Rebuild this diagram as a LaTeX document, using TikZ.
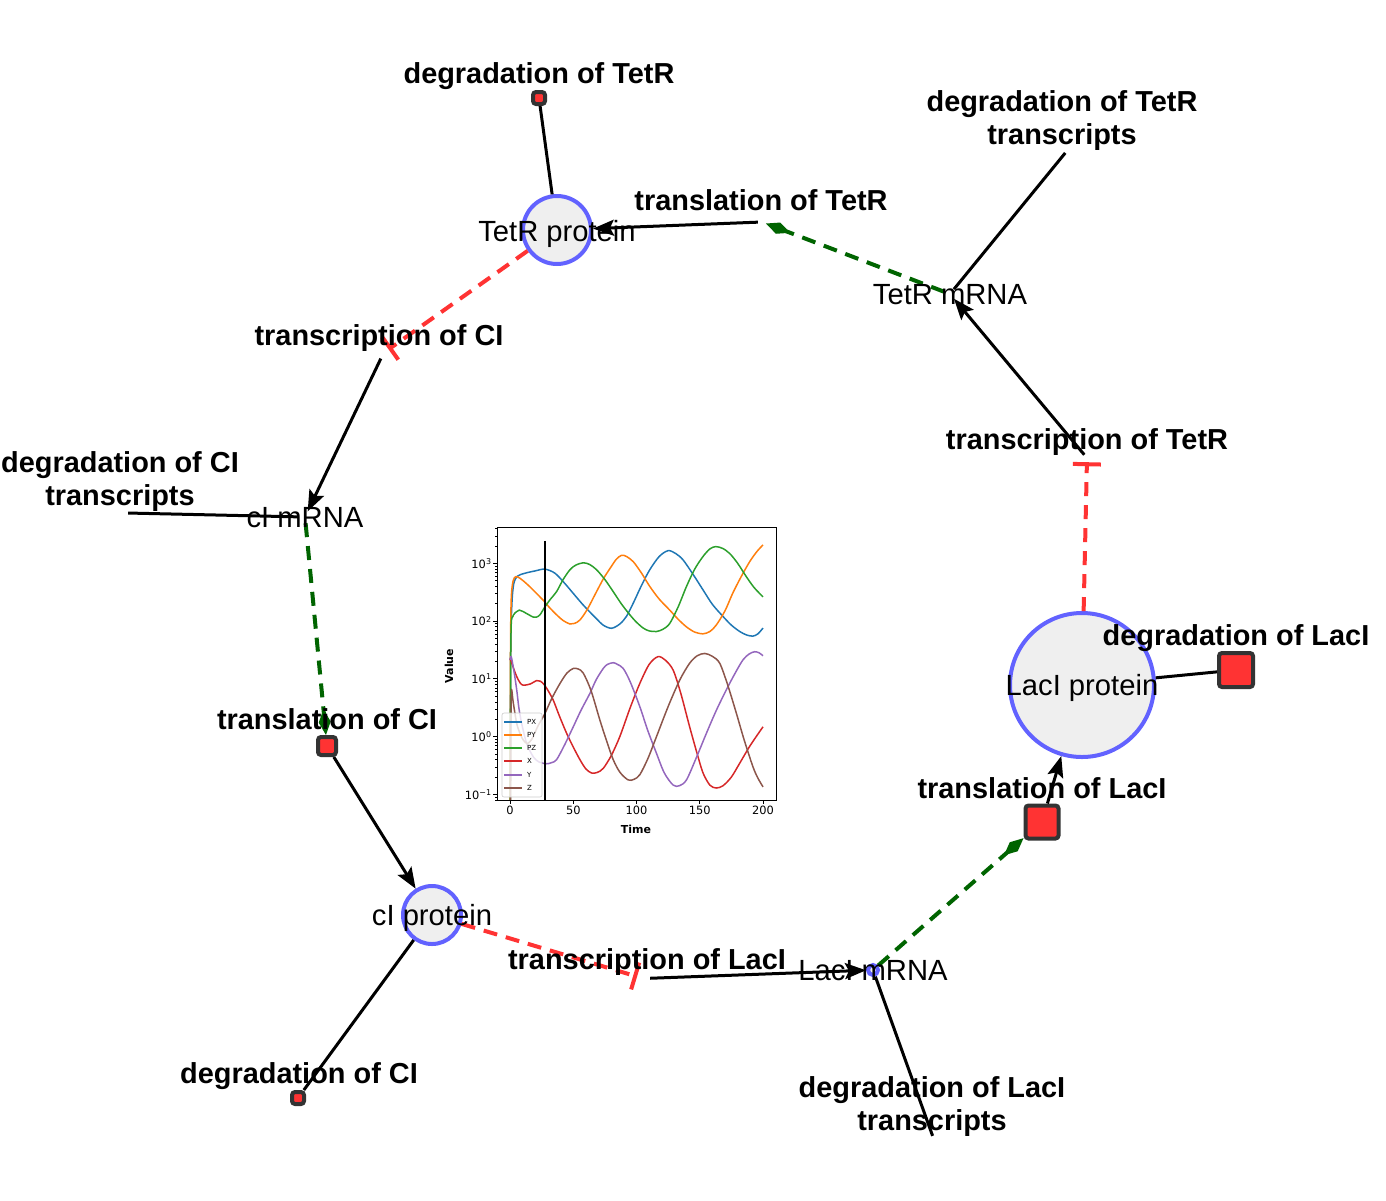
\documentclass[tikz,border=0pt]{standalone}
\usepackage{fontspec}
\setmainfont{Liberation Sans}
\newfontfamily\plotfont{DejaVu Sans}
\usetikzlibrary{arrows.meta, positioning}

\definecolor{spfill}{HTML}{EFEFEF}
\definecolor{spedge}{HTML}{6262FF}
\definecolor{rxfill}{HTML}{FF3333}
\definecolor{rxedge}{HTML}{333333}
\definecolor{inhib}{HTML}{FF3333}
\definecolor{modif}{HTML}{006400}
\definecolor{cPX}{HTML}{1F77B4}
\definecolor{cPY}{HTML}{FF7F0E}
\definecolor{cPZ}{HTML}{2CA02C}
\definecolor{cX}{HTML}{D62728}
\definecolor{cY}{HTML}{9467BD}
\definecolor{cZ}{HTML}{8C564B}

\tikzset{
	species/.style={circle, draw=spedge, fill=spfill, line width=4pt, inner sep=0pt},
	bare/.style={circle, inner sep=0pt},
	rxn/.style={rectangle, draw=rxedge, fill=rxfill, line width=4pt, rounded corners=3pt, inner sep=0pt},
	splab/.style={font=\fontsize{29.2}{33}\selectfont, inner sep=0pt},
	rxlab/.style={font=\fontsize{28.9}{33}\selectfont\bfseries, align=center, inner sep=0pt},
	degline/.style={line width=3pt},
	conv/.style={line width=3pt, -{Stealth[length=21pt, width=16pt, inset=4pt]}},
	modlink/.style={line width=4pt, modif, dash pattern=on 14pt off 9pt, -{Diamond[length=26pt, width=12pt]}},
	inhlink/.style={line width=4pt, inhib, dash pattern=on 14pt off 9pt, -{Bar[width=28pt]}},
	simline/.style={line width=1.5pt},
	ticklab/.style={font=\plotfont\fontsize{11.4}{13}\selectfont, inner sep=1.5pt},
}

\begin{document}
\begin{tikzpicture}[x=1pt, y=-1pt]
	\useasboundingbox (0,0) rectangle (1386,1200);

	% --- species ---
	\node[species, minimum size=68pt] (tetRp) at (557,230) {};
	\node[bare, minimum size=12pt] (tetRm) at (950,294) {};
	\node[bare, minimum size=12pt] (cIm) at (305,517) {};
	\node[species, minimum size=58pt] (cIp) at (432,915) {};
	\node[species, minimum size=10pt] (lacIm) at (873,970) {};
	\node[species, minimum size=144pt] (lacIp) at (1082,685) {};

	% --- reactions ---
	\node[rxn, minimum size=12pt] (degTetR) at (539,98) {};
	\node[bare, minimum size=2pt] (degTetRm) at (1066,152) {};
	\node[bare, minimum size=8pt] (tlTetR) at (762,222) {};
	\node[bare, minimum size=8pt] (tcTetR) at (1087,458) {};
	\node[bare, minimum size=12pt] (tcCI) at (383.5,353) {};
	\node[bare, minimum size=2pt] (degCIm) at (127,513) {};
	\node[rxn, minimum size=18pt] (tlCI) at (327,746) {};
	\node[rxn, minimum size=12pt] (degCI) at (298,1098) {};
	\node[bare, minimum size=13pt] (tcLacI) at (643.5,978.5) {};
	\node[bare, minimum size=2pt] (degLacIm) at (933,1137) {};
	\node[rxn, minimum size=33pt] (tlLacI) at (1042,822) {};
	\node[rxn, minimum size=34pt] (degLacI) at (1236,670) {};

	% --- edges ---
	\foreach \a/\b in {tetRp/degTetR, tetRm/degTetRm, cIm/degCIm, cIp/degCI, lacIm/degLacIm, lacIp/degLacI}
		\draw[degline] (\a) -- (\b);
	\foreach \a/\b in {tlTetR/tetRp, tcTetR/tetRm, tcCI/cIm, tlCI/cIp, tcLacI/lacIm, tlLacI/lacIp}
		\draw[conv] (\a) -- (\b);
	\foreach \a/\b in {tetRm/tlTetR, cIm/tlCI, lacIm/tlLacI}
		\draw[modlink] (\a) -- (\b);
	\foreach \a/\b in {lacIp/tcTetR, tetRp/tcCI, cIp/tcLacI}
		\draw[inhlink] (\a) -- (\b);

	% --- inset: time course ---
	\begin{scope}[shift={(510,736.6)}, x=1.265pt, y=57.75pt]
		\begin{scope}
			\clip (-10.3,-1.098) rectangle (210.3,3.63);
			\draw[simline, cPX] plot[smooth] coordinates {(0,-1.3) (0.6,1.5) (1.5,2.3) (3,2.65) (6,2.78) (12,2.83) (20,2.87) (27.6,2.90) (35.5,2.83) (43,2.66) (50,2.48) (57,2.30) (63,2.16) (68,2.05) (73.7,1.93) (80.3,1.876) (86.8,1.95) (92,2.08) (97.4,2.31) (104,2.62) (110.5,2.89) (118,3.12) (125,3.22) (131,3.17) (136.8,3.06) (145,2.80) (152.6,2.54) (160,2.29) (168.4,2.08) (175,1.93) (181.6,1.82) (187,1.76) (192,1.74) (196,1.78) (200,1.88)};
			\draw[simline, cPY] plot[smooth] coordinates {(0,-1.3) (0.4,1.5) (1,2.4) (2.5,2.7) (4.7,2.77) (8,2.74) (14,2.63) (20,2.50) (26.3,2.36) (31,2.24) (36.8,2.11) (42,2.01) (47.4,1.95) (51,1.96) (55.3,2.02) (61,2.2) (68.4,2.51) (74,2.74) (79,2.91) (84,3.07) (88.2,3.14) (92,3.12) (97.4,3.03) (104,2.83) (110.5,2.60) (118,2.38) (126.3,2.19) (133,2.03) (139.5,1.90) (146,1.81) (152.6,1.78) (158,1.82) (163,1.93) (170,2.18) (176,2.48) (183,2.78) (189.5,3.03) (195,3.2) (200,3.32)};
			\draw[simline, cPZ] plot[smooth] coordinates {(0.2,-1.3) (0.5,1.2) (1,1.96) (2,2.07) (3.9,2.14) (7.4,2.19) (10,2.17) (13.2,2.13) (18.4,2.07) (21,2.07) (23.7,2.11) (27.7,2.25) (32,2.38) (36.8,2.51) (42,2.72) (47.4,2.89) (52,2.97) (57.9,3.01) (63,2.98) (68.4,2.89) (75,2.72) (81.6,2.51) (88,2.30) (94.7,2.11) (100,1.98) (105.3,1.88) (110,1.83) (115.8,1.82) (121,1.86) (126.3,1.96) (133,2.25) (139.5,2.60) (146,2.90) (152.6,3.12) (158,3.25) (162.6,3.29) (168,3.26) (173.7,3.17) (180,3.0) (186.8,2.77) (193,2.58) (200,2.42)};
			\draw[simline, cX] plot[smooth] coordinates {(0,1.33) (0.5,1.33) (2.5,1.2) (5.3,1.04) (8,0.93) (10.5,0.89) (15.8,0.91) (21.1,0.97) (24,0.96) (27,0.9) (30,0.8) (34.2,0.63) (39,0.36) (44.7,0.06) (50,-0.18) (55.3,-0.40) (60,-0.56) (64.5,-0.63) (69,-0.62) (73.7,-0.55) (80,-0.33) (86.8,0.0) (95,0.5) (102.6,0.92) (110,1.25) (117,1.385) (123,1.32) (129,1.15) (135,0.75) (142,0.17) (148,-0.3) (152.6,-0.63) (158,-0.84) (163,-0.89) (168.4,-0.85) (175,-0.7) (181.6,-0.46) (190,-0.15) (200,0.17)};
			\draw[simline, cY] plot[smooth] coordinates {(0,1.33) (1,1.38) (3,1.15) (5.3,0.81) (7,0.5) (9.2,0.23) (13.2,-0.12) (18.4,-0.35) (23,-0.44) (29,-0.47) (33,-0.45) (36.8,-0.40) (43,-0.15) (50,0.17) (56,0.45) (63.2,0.75) (68,0.98) (73.7,1.18) (77,1.25) (81.6,1.28) (85,1.25) (89.5,1.18) (95,0.95) (102.6,0.52) (109,0.1) (115.8,-0.29) (122,-0.63) (129,-0.84) (134,-0.85) (139.5,-0.75) (147,-0.38) (155.3,0.06) (163,0.45) (171,0.81) (178,1.10) (184.2,1.33) (189,1.43) (193.4,1.47) (197,1.45) (200,1.40)};
			\draw[simline, cZ] plot[smooth] coordinates {(0.5,-1.3) (0.8,0.3) (1.2,0.81) (2.5,0.6) (5.3,0.23) (8,0.05) (10.5,-0.06) (13.5,-0.12) (16,-0.08) (18.4,0.0) (22,0.18) (27.6,0.40) (33,0.66) (39.5,0.92) (45,1.1) (50,1.18) (54,1.17) (57.9,1.10) (64,0.8) (71,0.29) (76,-0.05) (81.6,-0.40) (87,-0.62) (93.4,-0.75) (98,-0.74) (102.6,-0.66) (109,-0.38) (115.8,0.0) (125,0.52) (134.2,0.98) (142,1.27) (148,1.4) (154,1.44) (160,1.39) (165.8,1.27) (172,0.9) (179,0.40) (185,-0.05) (192,-0.52) (196,-0.72) (200,-0.87)};
		\end{scope}
		\draw[line width=2pt] (27.7,3.39) -- (27.7,-1.098);
		\draw[line width=0.9pt] (-10.3,-1.098) rectangle (210.3,3.63);
		% ticks
		\foreach \e/\s in {-1/{−1}, 0/0, 1/1, 2/2, 3/3}
			\draw[line width=0.8pt] (-10.3,\e) -- ++(-3.5pt,0pt) node[ticklab, left] (ytick\e) {10\textsuperscript{\s}};
		\begin{scope}
			\clip (-20,-1.098) rectangle (0,3.63);
			\foreach \e in {-2,...,3}
				\foreach \m in {0.301,0.477,0.602,0.699,0.778,0.845,0.903,0.954}
					\draw[line width=0.6pt] (-10.3,\e+\m) -- ++(-2pt,0pt);
		\end{scope}
		\foreach \t in {0,50,...,200}
			\draw[line width=0.8pt] (\t,-1.098) -- ++(0pt,-3.5pt) node[ticklab, below, inner sep=2.5pt] (xtick\t) {\t};
	\end{scope}
	\node[font=\plotfont\bfseries\fontsize{11}{13}\selectfont, rotate=90] (ylab) at (449,666) {Value};
	\node[font=\plotfont\bfseries\fontsize{11}{13}\selectfont] (xlab) at (636,829) {Time};
	% legend
	\draw[draw=black!20, fill=white, fill opacity=0.8, rounded corners=2pt, line width=0.6pt] (502,713) rectangle (542,797);
	\foreach \y/\c/\n in {722/cPX/PX, 735/cPY/PY, 748/cPZ/PZ, 761/cX/X, 775/cY/Y, 788/cZ/Z}{
		\draw[\c, line width=1.5pt] (504,\y) -- (522,\y);
		\node[anchor=west, inner sep=0pt, font=\plotfont\fontsize{7}{8}\selectfont] (leg\n) at (527,\y) {\n};
	}

	% --- labels ---
	\node[splab, anchor=base] (tetRp-l) at (557,241) {TetR protein};
	\node[splab, anchor=base] (tetRm-l) at (950,304) {TetR mRNA};
	\node[splab, anchor=base] (cIm-l) at (305,527) {cI mRNA};
	\node[splab, anchor=base] (cIp-l) at (432,925) {cI protein};
	\node[splab, anchor=base] (lacIm-l) at (873,980) {LacI mRNA};
	\node[splab, anchor=base] (lacIp-l) at (1082,695) {LacI protein};

	\node[rxlab, anchor=base] (degTetR-l) at (539,83) {degradation of TetR};
	\node[rxlab] (degTetRm-l) at (1062,121) {degradation of TetR\\transcripts};
	\node[rxlab, anchor=base] (tlTetR-l) at (761,210) {translation of TetR};
	\node[rxlab, anchor=base] (tcTetR-l) at (1087,449) {transcription of TetR};
	\node[rxlab, anchor=base] (tcCI-l) at (379,345) {transcription of CI};
	\node[rxlab] (degCIm-l) at (120,482) {degradation of CI\\transcripts};
	\node[rxlab, anchor=base] (tlCI-l) at (327,729) {translation of CI};
	\node[rxlab, anchor=base] (degCI-l) at (299,1083) {degradation of CI};
	\node[rxlab, anchor=base] (tcLacI-l) at (647,969) {transcription of LacI};
	\node[rxlab] (degLacIm-l) at (932,1107) {degradation of LacI\\transcripts};
	\node[rxlab, anchor=base] (tlLacI-l) at (1042,798) {translation of LacI};
	\node[rxlab, anchor=base] (degLacI-l) at (1236,645) {degradation of LacI};
\end{tikzpicture}
\end{document}
